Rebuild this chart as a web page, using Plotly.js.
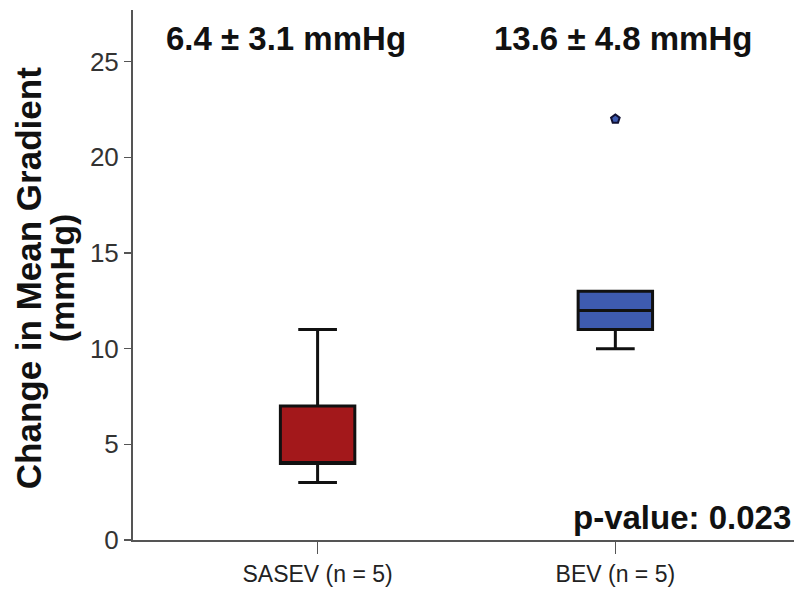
<!DOCTYPE html>
<html>
<head>
<meta charset="utf-8">
<script src="https://cdn.plot.ly/plotly-3.0.1.min.js"></script>
<style>html,body{margin:0;padding:0;background:#fff;}#chart{width:794px;height:589px;}</style>
</head>
<body>
<div id="chart"></div>
<script>
// Data
var groups = ["SASEV (n = 5)", "BEV (n = 5)"];
var lowerWhisker = [3, 10];
var q1Values = [4, 11];
var medianValues = [4, 12];
var q3Values = [7, 13];
var upperWhisker = [11, 13];
var fillColors = ["#A3181B", "#3E5BB0"];
var outlierGroups = ["BEV (n = 5)"];
var outlierValues = [22];
var summaryLabels = ["6.4 ± 3.1 mmHg", "13.6 ± 4.8 mmHg"];
var pValueLabel = "p-value: 0.023";
var yTitleLines = ["Change in Mean Gradient", "(mmHg)"];
var yTickValues = [0, 5, 10, 15, 20, 25];

var FONT = "Liberation Sans, Arial, sans-serif";

var traces = groups.map(function (g, i) {
  return {
    type: "box",
    name: g,
    x: [g],
    q1: [q1Values[i]],
    median: [medianValues[i]],
    q3: [q3Values[i]],
    lowerfence: [lowerWhisker[i]],
    upperfence: [upperWhisker[i]],
    width: 0.25,
    whiskerwidth: 0.52,
    fillcolor: fillColors[i],
    line: {color: "#111111", width: 3},
    boxpoints: false,
    hoverinfo: "skip",
    showlegend: false
  };
});

traces.push({
  type: "scatter",
  mode: "markers",
  x: outlierGroups,
  y: outlierValues,
  marker: {symbol: "pentagon", size: 9, color: "#3E5BB0", line: {color: "#111133", width: 2}},
  showlegend: false,
  hoverinfo: "skip"
});

var annotations = [
  {x: groups[0], y: 1, xref: "x", yref: "paper", yshift: -8, xshift: -32,
   text: "<b>" + summaryLabels[0] + "</b>", showarrow: false,
   xanchor: "center", yanchor: "top", font: {family: FONT, size: 33, color: "#111"}},
  {x: groups[1], y: 1, xref: "x", yref: "paper", yshift: -8, xshift: 8,
   text: "<b>" + summaryLabels[1] + "</b>", showarrow: false,
   xanchor: "center", yanchor: "top", font: {family: FONT, size: 33, color: "#111"}},
  {x: 1, y: 0, xref: "paper", yref: "paper", text: "<b>" + pValueLabel + "</b>", showarrow: false,
   xanchor: "right", yanchor: "bottom", xshift: -1, yshift: 2, font: {family: FONT, size: 33, color: "#111"}},
  {x: -0.1588, y: 0.494, xref: "paper", yref: "paper", text: "<b>" + yTitleLines[0] + "</b>", showarrow: false,
   textangle: -90, xanchor: "center", yanchor: "middle", font: {family: FONT, size: 35, color: "#111"}},
  {x: -0.1074, y: 0.494, xref: "paper", yref: "paper", text: "<b>" + yTitleLines[1] + "</b>", showarrow: false,
   textangle: -90, xanchor: "center", yanchor: "middle", font: {family: FONT, size: 34, color: "#111"}}
];

var layout = {
  width: 794, height: 589,
  margin: {l: 133, r: 0, t: 10, b: 49},
  paper_bgcolor: "#ffffff",
  plot_bgcolor: "#ffffff",
  showlegend: false,
  xaxis: {
    type: "category",
    categoryorder: "array",
    categoryarray: groups,
    range: [-0.62, 1.6],
    showline: true, linecolor: "#555", linewidth: 2,
    ticks: "outside", ticklen: 12, tickwidth: 1.5, tickcolor: "#555",
    showgrid: false, zeroline: false,
    tickfont: {family: FONT, size: 23, color: "#222"}
  },
  yaxis: {
    range: [0, 27.7],
    tickvals: yTickValues,
    showline: true, linecolor: "#555", linewidth: 2,
    ticks: "outside", ticklen: 7, tickwidth: 1.5, tickcolor: "#555",
    showgrid: false, zeroline: false,
    tickfont: {family: FONT, size: 26, color: "#333"}
  },
  annotations: annotations
};

Plotly.newPlot("chart", traces, layout, {displayModeBar: false, staticPlot: true});
</script>
</body>
</html>
